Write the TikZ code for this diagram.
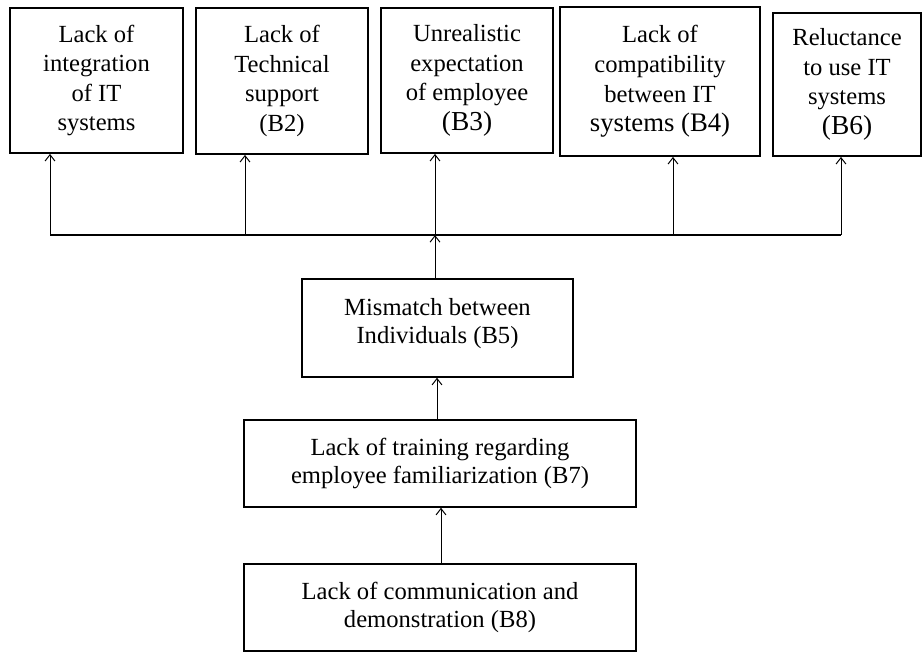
\documentclass[tikz,border=0pt]{standalone}
\usepackage{fontspec}
\setmainfont{Liberation Serif}
\usetikzlibrary{arrows.meta,calc,positioning}

\begin{document}
\begin{tikzpicture}[x=0.025cm,y=-0.025cm,
every node/.style={draw,line width=1.3pt,align=center,inner sep=0pt,
font=\fontsize{17.5}{21}\selectfont},
arr/.style={-{Straight Barb[length=4.5pt,width=7pt]},line width=0.7pt}]
\useasboundingbox (0,0) rectangle (923,653);
\node[minimum width=173*0.025cm,minimum height=145*0.025cm] (B1) at (96.5,80.5) {Lack of\\integration\\of IT\\systems};
\node[minimum width=172*0.025cm,minimum height=146*0.025cm] (B2) at (282,81) {Lack of\\Technical\\support\\(B2)};
\node[minimum width=172*0.025cm,minimum height=145*0.025cm] (B3) at (467,80.5) {Unrealistic\\expectation\\of employee\\{\fontsize{19.5}{21}\selectfont(B3)}};
\node[minimum width=200*0.025cm,minimum height=149*0.025cm] (B4) at (660,81.5) {Lack of\\compatibility\\between IT\\{\fontsize{19}{21}\selectfont systems (B4)}};
\node[minimum width=148*0.025cm,minimum height=143*0.025cm] (B6) at (847,84.5) {Reluctance\\to use IT\\systems\\{\fontsize{19.5}{21}\selectfont(B6)}};
\node[line width=1.1pt,minimum width=271*0.025cm,minimum height=98*0.025cm,
font=\fontsize{17.5}{20}\selectfont] (B5) at (437.5,328) {Mismatch between\\Individuals (B5)\\[-10pt]\mbox{}};
\node[line width=1.1pt,minimum width=392*0.025cm,minimum height=87*0.025cm,
font=\fontsize{17.5}{20}\selectfont] (B7) at (440,463.5) {Lack of training regarding\\employee familiarization (B7)};
\node[line width=1.1pt,minimum width=392*0.025cm,minimum height=87*0.025cm,
font=\fontsize{17.5}{20}\selectfont] (B8) at (440,607.5) {Lack of communication and\\demonstration (B8)};
% bus
\coordinate (J1) at (50,235);
\coordinate (J2) at (245,235);
\coordinate (J3) at (435,235);
\coordinate (J4) at (673,235);
\coordinate (J6) at (841,235);
\draw[line width=0.8pt] (J1)--(J6);
\draw[arr] (J1)--(J1 |- B1.south);
\draw[arr] (J2)--(J2 |- B2.south);
\draw[arr] (J3)--(J3 |- B3.south);
\draw[arr] (J4)--(J4 |- B4.south);
\draw[arr] (J6)--(J6 |- B6.south);
\draw[arr] (J3 |- B5.north)--(J3);
\draw[arr] (B7.north -| 437,0)--(B5.south -| 437,0);
\draw[arr] (B8.north -| 441,0)--(B7.south -| 441,0);
\end{tikzpicture}
\end{document}
